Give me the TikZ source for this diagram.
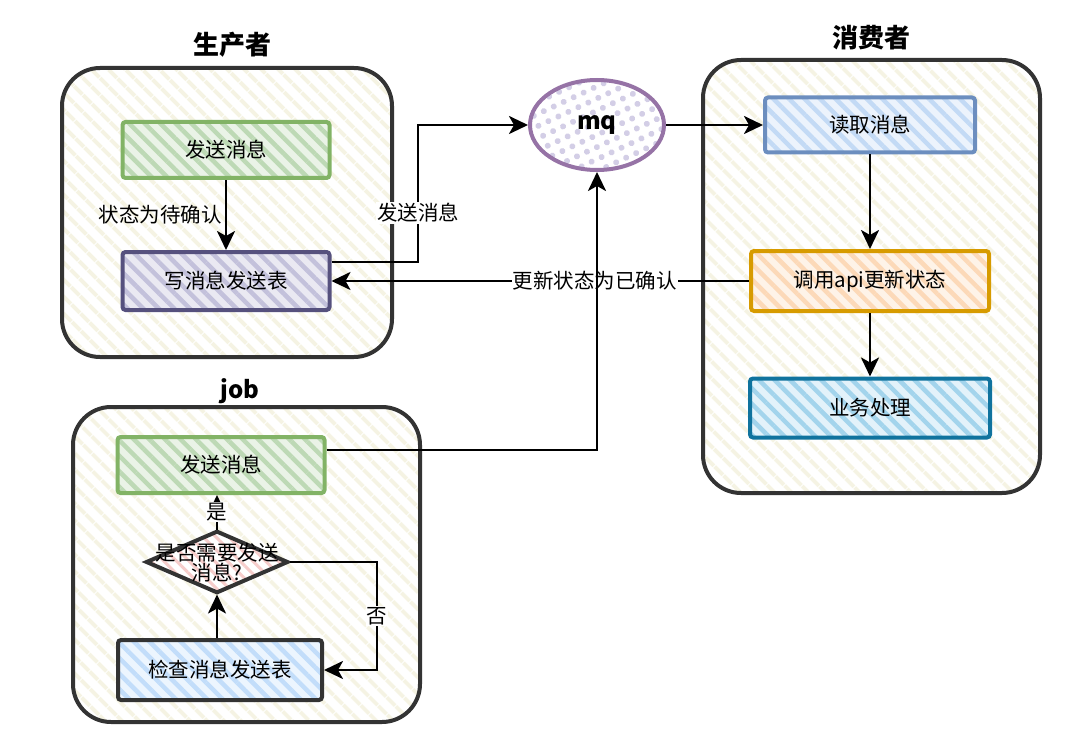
\documentclass[tikz,border=0pt]{standalone}
\usepackage{fontspec}
\setmainfont{Noto Sans CJK SC}
\usetikzlibrary{shapes.geometric,patterns.meta,arrows.meta}
\definecolor{cbord}{HTML}{333333}
\definecolor{cstripe}{HTML}{F5F3E3}
\definecolor{gB}{HTML}{82B366}\definecolor{gS}{HTML}{BDD9B5}\definecolor{gF}{HTML}{EAF3E7}
\definecolor{pB}{HTML}{56517E}\definecolor{pS}{HTML}{C3C1DB}\definecolor{pF}{HTML}{EAE9F2}
\definecolor{bB}{HTML}{6C8EBF}\definecolor{bS}{HTML}{C3DAF5}\definecolor{bF}{HTML}{ECF3FC}
\definecolor{oB}{HTML}{D79B00}\definecolor{oS}{HTML}{FCD9B8}\definecolor{oF}{HTML}{FEF3E8}
\definecolor{tB}{HTML}{10739E}\definecolor{tS}{HTML}{A3D4EC}\definecolor{tF}{HTML}{E3F2FA}
\definecolor{kS}{HTML}{C2DDFA}\definecolor{kF}{HTML}{ECF5FE}
\definecolor{rS}{HTML}{F6CDCB}
\definecolor{mB}{HTML}{9673A6}\definecolor{mS}{HTML}{D3CEE6}
\newcommand\lblfont{\fontsize{20.5}{24}\selectfont}
\newcommand\ttlfont{\fontsize{26}{30}\selectfont\bfseries}
\tikzset{
  container/.style={draw=cbord, line width=4pt, rounded corners=38pt,
    pattern={Lines[angle=-45,distance=13pt,line width=4.5pt]}, pattern color=cstripe},
  box/.style n args={3}{draw=#1, line width=4pt, rounded corners=3pt,
    preaction={fill=#3},
    pattern={Lines[angle=-45,distance=11pt,line width=4.5pt]}, pattern color=#2,
    font=\lblfont, inner sep=0pt},
  ttl/.style={font=\ttlfont},
  lbl/.style={font=\lblfont, inner sep=1pt},
  lblw/.style={font=\lblfont, fill=white, inner sep=1pt},
  arr/.style={-{Stealth[length=19pt,width=18pt,inset=5pt]}, line width=2.8pt},
}
\begin{document}
\begin{tikzpicture}[x=1pt,y=-1pt]
\useasboundingbox (0,0) rectangle (1080,741);
% containers
\node[container, minimum width=330pt, minimum height=289pt] (prod) at (227,212.5) {};
\node[container, minimum width=337pt, minimum height=433pt] (cons) at (871.5,276.5) {};
\node[container, minimum width=347pt, minimum height=315pt] (jobc) at (246.5,564.5) {};
\node[ttl] (tprod) at (232,45) {生产者};
\node[ttl] (tcons) at (871,38) {消费者};
\node[font=\fontsize{24}{28}\selectfont\bfseries] (tjob) at (240,391) {job};
% producer
\node[box={gB}{gS}{gF}, minimum width=207pt, minimum height=56pt] (pg1) at (226,150) {发送消息};
\node[box={pB}{pS}{pF}, minimum width=207pt, minimum height=58pt] (pw) at (226,281) {写消息发送表};
% mq
\node[ellipse, draw=mB, line width=4pt, preaction={fill=white},
  pattern={Dots[radius=3pt,distance=11pt,angle=25]}, pattern color=mS,
  minimum width=134pt, minimum height=90pt, font=\fontsize{24}{28}\selectfont\bfseries] (mq) at (597,125) {mq};
% consumer
\node[box={bB}{bS}{bF}, minimum width=210pt, minimum height=55pt] (rd) at (870,125) {读取消息};
\node[box={oB}{oS}{oF}, minimum width=238pt, minimum height=60pt] (call) at (870,281) {调用api更新状态};
\node[box={tB}{tS}{tF}, minimum width=240pt, minimum height=59pt] (biz) at (870,408) {业务处理};
% job
\node[box={gB}{gS}{gF}, minimum width=207pt, minimum height=56pt] (js) at (221,465) {发送消息};
\node[box={cbord}{kS}{kF}, minimum width=204pt, minimum height=60pt] (ck) at (220,670) {检查消息发送表};
\node[diamond, draw=cbord, line width=4pt, preaction={fill=white},
  pattern={Lines[angle=-45,distance=9pt,line width=3pt]}, pattern color=rS,
  minimum width=142pt, minimum height=62pt, inner sep=0pt, aspect=2.3] (dia) at (217,562) {};
\node[font=\lblfont, align=center, inner sep=0pt] (diat) at (217,563) {是否需要发送\\[-4pt]消息?};
% coordinates
\coordinate (c1) at (418,125);
\coordinate (c2) at (377,562);
% connectors
\draw[arr] (pg1.south) -- node[lbl, left=2pt] (l1) {状态为待确认} (pw.north);
\draw[arr] ([yshift=19pt]pw.east) -| (c1) -- (mq.west);
\node[lblw] (l2) at (418,213) {发送消息};
\draw[arr] (mq.east) -- (rd.west);
\draw[arr] (rd.south) -- (call.north);
\draw[arr] (call.south) -- (biz.north);
\draw[arr] (call.west) -- node[lblw, pos=0.37] (l3) {更新状态为已确认} (pw.east);
\draw[arr] ([yshift=15pt]js.east) -| (mq.south);
\draw[arr] (ck.north -| dia.south) -- (dia.south);
\draw[arr] (dia.north) -- node[lblw] (l4) {是} (dia.north |- js.south);
\draw[arr] (dia.east) -- (c2) |- node[lblw, pos=0.25] (l5) {否} (ck.east);
\end{tikzpicture}
\end{document}
